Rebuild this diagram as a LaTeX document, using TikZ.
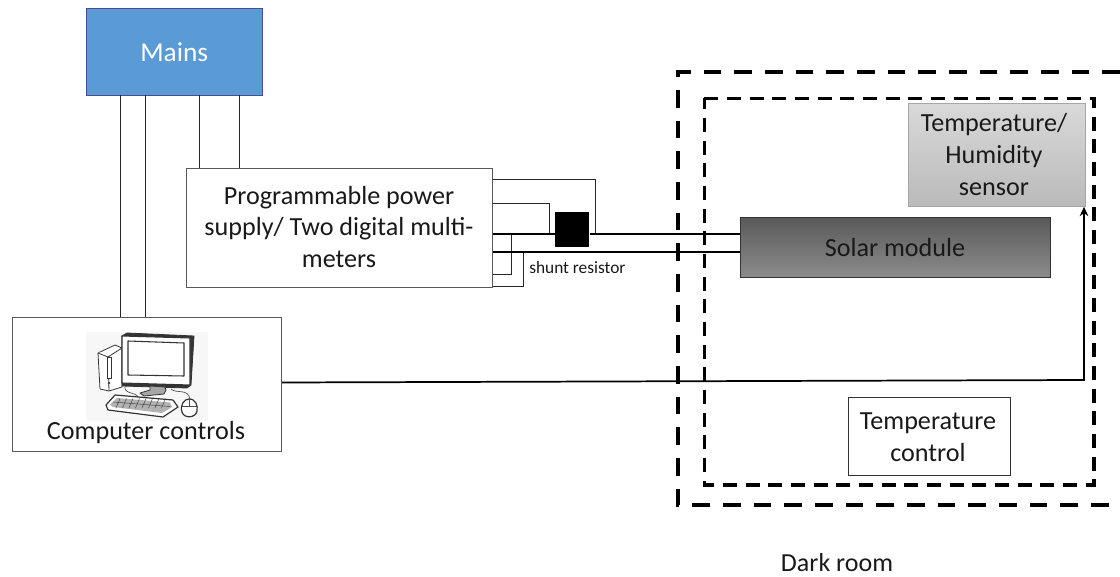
\documentclass[tikz,border=0pt]{standalone}
\usepackage{fontspec}
\setmainfont{Carlito}
\usetikzlibrary{arrows.meta}
\tikzset{
  px/.style={x=0.75pt,y=-0.75pt},
  lbl/.style={font=\fontsize{19.6pt}{24pt}\selectfont,text=black!90,align=center},
  boxnode/.style={draw=black!65,line width=0.9pt,fill=white,inner sep=0pt,anchor=north west},
  wire/.style={draw=black!85,line width=0.7pt},
  thick wire/.style={draw=black,line width=1.6pt},
  room outer/.style={draw=black,line width=3pt,dash pattern=on 13.3pt off 9.7pt},
  room inner/.style={draw=black,line width=2.4pt,dash pattern=on 10.5pt off 6.5pt},
  icon/.style={draw=black!80,line width=0.6pt,fill=white,line join=round},
}
\begin{document}
\begin{tikzpicture}[px]
\useasboundingbox (0,0) rectangle (1120,577);
% dark room
\coordinate (roomTR) at (1120,72);
\coordinate (roomTL) at (678,72);
\coordinate (roomBL) at (678,505);
\coordinate (roomBR) at (1120,505);
\draw[room outer] (roomTR) -- (roomTL) -- (roomBL) -- (roomBR);
\coordinate (inTL) at (704.4,98.4);
\draw[room inner] (inTL) -- (1094,98.4) -- (1094,485) -- (704.4,485) -- cycle;
% nodes
\node[anchor=north west,draw=black!60!blue!70,line width=0.7pt,fill={rgb,255:red,91;green,155;blue,213},minimum width=175.5*0.75pt,minimum height=87*0.75pt,inner sep=0pt,font=\fontsize{20.5pt}{24pt}\selectfont,text=white] (mains) at (86,8) {Mains};
\node[boxnode,minimum width=306*0.75pt,minimum height=119*0.75pt] (psu) at (186,168) {};
\node[lbl] (psutext) at (339,227) {Programmable power\\[-0.5pt]supply/ Two digital multi-\\[-0.5pt]meters};
\node[boxnode,minimum width=269*0.75pt,minimum height=134*0.75pt] (pc) at (12,317) {};
\node[anchor=north west,inner sep=0pt,draw=none,fill=black!3,minimum width=122*0.75pt,minimum height=89*0.75pt] (iconbg) at (86,332) {};
\node[lbl,anchor=center] (pctext) at (146,432.5) {Computer controls};
\node[anchor=north west,draw=black!35,line width=0.6pt,top color=black!15,bottom color=black!27,minimum width=177*0.75pt,minimum height=103*0.75pt,inner sep=0pt] (sensor) at (908,103) {};
\node[lbl] (sensortext) at (994,155) {Temperature/\\[0pt]Humidity\\[0pt]sensor};
\node[anchor=north west,draw=black!80,line width=0.8pt,top color=black!65,bottom color=black!45,minimum width=310*0.75pt,minimum height=60*0.75pt,inner sep=0pt] (solar) at (740,217) {};
\node[lbl] (solartext) at (895,248) {Solar module};
\node[boxnode,draw=black!80,minimum width=162*0.75pt,minimum height=78*0.75pt] (tc) at (848,397) {};
\node[lbl] (tctext) at (928,437) {Temperature\\[0pt]control};
\node[anchor=north west,fill=black,inner sep=0pt,minimum width=34*0.75pt,minimum height=35*0.75pt] (shunt) at (555,212) {};
\node[anchor=west,inner sep=0pt,font=\fontsize{13pt}{15pt}\selectfont,text=black!90] (shunttext) at (529,268) {shunt resistor};
\node[anchor=center,inner sep=0pt,font=\fontsize{19.5pt}{22pt}\selectfont,text=black!90] (roomtext) at (837,563) {Dark room};
% mains wires
\coordinate (a1) at (120,95); \coordinate (a2) at (120,317);
\coordinate (b1) at (145,95); \coordinate (b2) at (145,317);
\coordinate (c1) at (199,95); \coordinate (c2) at (199,168);
\coordinate (d1) at (239,95); \coordinate (d2) at (239,168);
\draw[wire] (a1) -- (a2) (b1) -- (b2) (c1) -- (c2) (d1) -- (d2);
% sense wires
\coordinate (s1) at (493,179); \coordinate (s2) at (595,234);
\coordinate (s3) at (493,203); \coordinate (s4) at (549,234);
\coordinate (s5) at (493,274); \coordinate (s6) at (511,234);
\coordinate (s7) at (493,286); \coordinate (s8) at (523,252);
\draw[wire] (s1) -| (s2);
\draw[wire] (s3) -| (s4);
\draw[wire] (s5) -| (s6);
\draw[wire] (s7) -| (s8);
% power wires
\coordinate (p1) at (493,234); \coordinate (p2) at (493,252);
\draw[thick wire] (p1) -- (shunt.west |- p1);
\draw[thick wire] (shunt.east |- p1) -- (solar.west |- p1);
\draw[thick wire] (p2) -- (solar.west |- p2);
% control line
\coordinate (ctrl) at (1084,380);
\draw[thick wire,line width=1.3pt,-{Stealth[length=7pt,width=6.5pt]}] (pc.east |- 0,382.5) -- (ctrl) -- (ctrl |- sensor.south);
% computer icon
\begin{scope}
  % tower
  \draw[icon] (98,353) -- (115,345) -- (122,348) -- (122,387) -- (109,391) -- (100,389) -- cycle;
  \draw[icon] (98,353) -- (108,357) -- (122,348);
  \draw[icon] (108,357) -- (109,391);
  \draw[icon,line width=0.4pt] (107,357) rectangle (111,378);
  \fill[black!70] (109,383) circle (1.5);
  % monitor
  \draw[icon,fill=black!80] (122,336) -- (127,333) -- (194,336) -- (191,385) -- (187,388) -- (122,386) -- cycle;
  \draw[icon,line width=0.8pt] (122,336) -- (190,338) -- (190,385) -- (122,383) -- cycle;
  \draw[icon,line width=0.8pt] (128,341) -- (184,343) -- (184,376) -- (128,375) -- cycle;
  % stand
  \draw[icon,fill=black!35] (150,386) -- (150,390) -- (140,393) -- (144,396) -- (164,394) -- (166,390) -- (165,387) -- cycle;
  % cables
  \draw[black!70,line width=0.5pt] (125,387) .. controls (124,394) and (136,392) .. (138,397);
  \draw[black!70,line width=0.5pt] (171,389) .. controls (176,394) and (188,388) .. (190,399);
  % keyboard
  \draw[icon,line width=0.9pt] (115,395) -- (173,400) -- (178,407) -- (163,417) -- (108,410) -- (106,405) -- cycle;
  \fill[black!30] (117,398) -- (170,402.5) -- (172,407) -- (162,413) -- (113,407) -- (110,404.5) -- cycle;
  \foreach \i in {0,...,7} \draw[black!75,line width=0.35pt] (120+\i*6.5,398.5) -- (116+\i*6.5,408);
  \draw[black!75,line width=0.35pt] (113,402) -- (170,406.5);
  % mouse
  \draw[icon,line width=0.9pt] (189,399) .. controls (196,399) and (198,406) .. (197,411) .. controls (196,418) and (184,419) .. (182,412) .. controls (180,405) and (184,399) .. (189,399) -- cycle;
  \draw[black!70,line width=0.4pt] (182,406) -- (197,406) (189,399) -- (189,406);
\end{scope}
\end{tikzpicture}
\end{document}
